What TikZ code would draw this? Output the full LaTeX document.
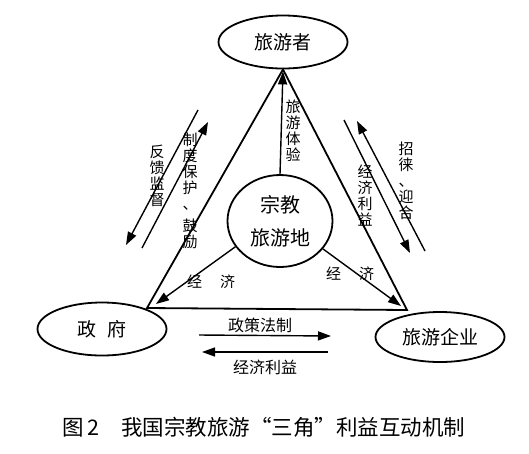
\documentclass[tikz,border=0pt]{standalone}
\usepackage{fontspec}
\setmainfont{Noto Sans CJK SC}
\usetikzlibrary{shapes.geometric,arrows.meta}

\begin{document}
\begin{tikzpicture}[x=1pt,y=-1pt,
    party/.style={ellipse,draw,line width=1.8pt,minimum width=129pt,minimum height=53pt,inner sep=0pt,font=\fontsize{19}{19}\selectfont},
    flow/.style={line width=1.4pt,-{Triangle[length=13pt,width=9pt]}},
    side/.style={line width=1.8pt},
    word/.style={font=\fontsize{15}{16}\selectfont,align=center,inner sep=0pt}]
  \useasboundingbox (0,0) rectangle (529,453);

  \node[party] (tourist) at (283,42) {旅游者};
  \node[party] (gov) at (102,329) {政\hspace{12pt}府};
  \node[party,minimum height=50pt] (firm) at (440,337) {旅游企业};
  \node[ellipse,draw,line width=1.8pt,minimum width=105pt,minimum height=92pt,inner sep=0pt,
        font=\fontsize{20}{33}\selectfont,align=center] (site) at (280,221) {宗教\\旅游地};

  % triangle
  \coordinate (gl) at (147,308);
  \coordinate (fr) at (407,310);
  \draw[side] (tourist.south) -- (gl) -- (fr) -- cycle;

  \draw[flow,shorten >=2pt] (site.north) -- (tourist.south);
  \coordinate (gl2) at (156,304);
  \coordinate (fr2) at (401,306);
  \draw[flow] (site.210) -- (gl2);
  \draw[flow] (site.-33) -- (fr2);
  \node[word] (econl) at (211,282) {经\hspace{18pt}济};
  \node[word] (econr) at (350,274) {经\hspace{18pt}济};

  % left pair
  \coordinate (a1) at (198,110); \coordinate (a2) at (126,245);
  \coordinate (b1) at (142,248); \coordinate (b2) at (208,122);
  \draw[flow] (a1) -- (a2);
  \draw[flow] (b1) -- (b2);
  \node[word] (feed) at (157,176) {反\\馈\\监\\督};
  \node[word] (rule) at (190,191) {制\\度\\保\\护\\、\\[6pt]鼓\\励};

  % right pair
  \coordinate (c1) at (344,120); \coordinate (c2) at (410,253);
  \coordinate (d1) at (425,251); \coordinate (d2) at (357,121);
  \draw[flow] (c1) -- (c2);
  \draw[flow] (d1) -- (d2);
  \node[word] (gain) at (365,196) {经\\济\\利\\益};
  \node[word] (lure) at (406,181) {招\\徕\\、\\迎\\合};

  \node[word] (exp) at (293,131) {旅\\游\\体\\验};

  % bottom pair
  \coordinate (p1) at (199,335); \coordinate (p2) at (331,336);
  \coordinate (q1) at (328,352); \coordinate (q2) at (202,352);
  \draw[flow] (p1) -- (p2);
  \draw[flow] (q1) -- (q2);
  \node[word,font=\fontsize{16}{16}\selectfont] (law) at (260,325) {政策法制};
  \node[word,font=\fontsize{16}{16}\selectfont] (back) at (265,367) {经济利益};

  \node[font=\fontsize{21.5}{21.5}\selectfont,inner sep=0pt] (cap) at (264,427) {图\,2\quad 我国宗教旅游“三角”利益互动机制};
\end{tikzpicture}
\end{document}
